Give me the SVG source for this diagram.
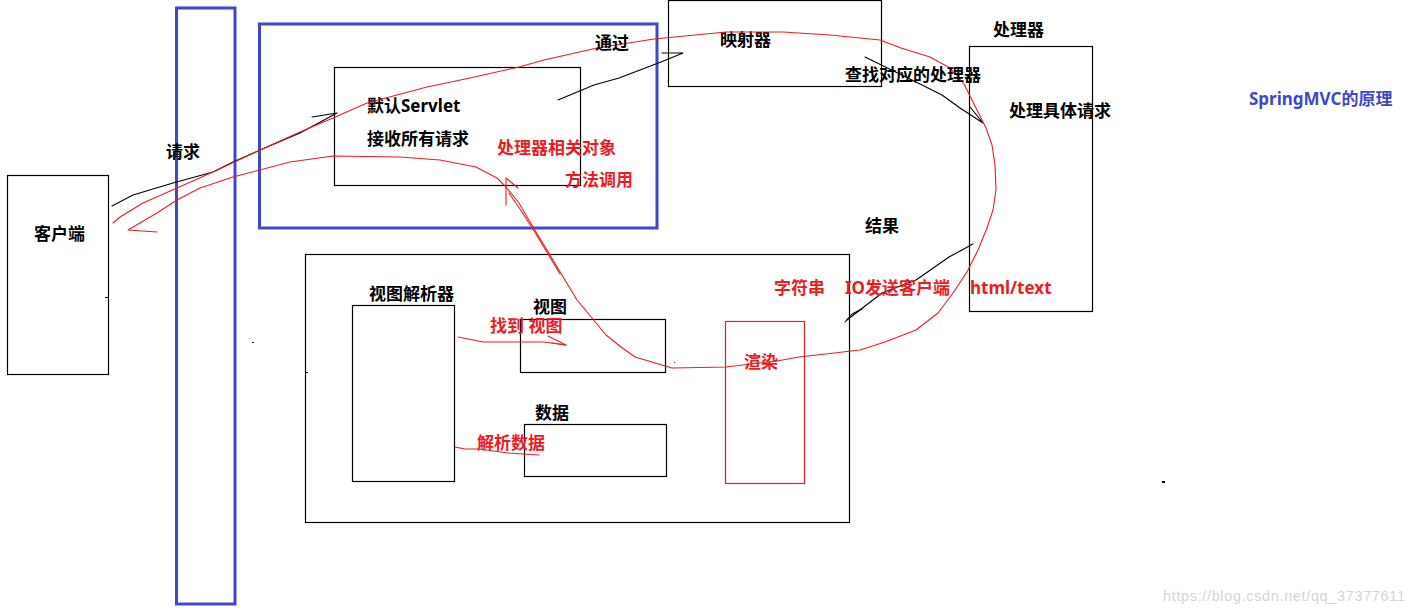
<svg xmlns="http://www.w3.org/2000/svg" width="1414" height="614" viewBox="0 0 1414 614">
<style>
.box{fill:none;stroke:#000;stroke-width:1.2}
.blue{fill:none;stroke:#3f48cc;stroke-width:3}
.rbox{fill:none;stroke:#ed1c24;stroke-width:1.2}
.t{font-family:"Noto Sans","Noto Sans CJK SC",sans-serif;font-size:17px;font-weight:bold;fill:#000}
.r{fill:#ed1c24}
.b{fill:#3f48cc}
.rl{fill:none;stroke:#ed1c24;stroke-width:1.1;stroke-linejoin:round;stroke-linecap:round}
.kl{fill:none;stroke:#000;stroke-width:1.1;stroke-linejoin:round;stroke-linecap:round}
.wm{font-family:"Liberation Sans",Arial,sans-serif;font-size:14.5px;fill:#d4d4d4}
</style>
<rect width="1414" height="614" fill="#fff"/>
<g id="request-bar"><rect class="blue" x="176.5" y="8" width="58.5" height="596"/><text class="t" x="166" y="158">请求</text></g>
<g id="dispatcher-frame"><rect class="blue" x="259.5" y="24" width="397.5" height="204"/></g>
<g id="client"><rect class="box" x="7.5" y="175.5" width="101" height="199"/><text class="t" x="34" y="240">客户端</text></g>
<g id="servlet"><rect class="box" x="334.5" y="67.5" width="246" height="118"/><text class="t" x="367" y="112">默认Servlet</text><text class="t" x="367" y="145">接收所有请求</text></g>
<g id="mapper"><rect class="box" x="668.5" y="0.5" width="213" height="86"/><text class="t" x="720" y="46">映射器</text></g>
<g id="handler"><rect class="box" x="969.5" y="46.5" width="123" height="265"/><text class="t" x="993" y="36">处理器</text><text class="t" x="1009" y="117">处理具体请求</text></g>
<g id="view-area"><rect class="box" x="305.5" y="254.5" width="544" height="268"/></g>
<g id="view-resolver"><rect class="box" x="352.5" y="305.5" width="102" height="176"/><text class="t" x="369" y="300">视图解析器</text></g>
<g id="view"><rect class="box" x="520.5" y="319.5" width="145" height="53"/><text class="t" x="533" y="313">视图</text></g>
<g id="data"><rect class="box" x="524.5" y="424.5" width="142" height="52"/><text class="t" x="535" y="419">数据</text></g>
<g id="render"><rect class="rbox" x="725.5" y="321.5" width="79" height="162"/><text class="t r" x="744" y="368">渲染</text></g>
<g id="title"><text class="t b" x="1249" y="105">SpringMVC的原理</text></g>
<g id="connectors">
<polyline class="kl" points="112,206 133,195 173,183 213,172 233,162 267,147 300,133 337,113 312,117"/>
<polyline class="kl" points="558,100 594,85 619,78 640,70 661,62 683,53 662,53"/>
<polyline class="kl" points="865,57 912,80 942,95 960,108 983,123 970,107"/>
<polyline class="kl" points="973,244 949,257 916,280 882,293 869,303 847,320"/>
<polyline class="kl" points="845,322 852,314 862,309"/>
<polyline class="rl" points="113,223 120,217 143,203 177,188 213,172 260,150 300,132 333,118 367,103 427,87 470,78 519,67 544,60 597,48 654,39 726,32 783,32 830,35 880,40 901,48 930,57 950,68 964,84 974,104 986,128 992,145 995,165 996,190 993,210 987,228 978,250 967,272 953,293 938,313 916,330 885,342 860,350 817,355 799,357 777,361 726,367 672,368 635,357 621,347 606,335 592,318 577,300 559,270 547,250 533,227 519,203 506,187 497,178 476,167 440,160 400,157 333,156 290,162 233,177 200,188 177,200 157,213 128,230 157,232"/>
<polyline class="rl" points="509,193 522,212 536,234 548,254 560,274"/>
<polyline class="rl" points="506,205 506,178 518,188"/>
<polyline class="rl" points="458,337 483,342 544,342 566,345"/>
<polyline class="rl" points="548,336 566,345 552,343"/>
<polyline class="rl" points="455,447 465,449 479,449 508,453 539,455"/>
</g>
<g id="labels">
<text class="t" x="595" y="49">通过</text>
<text class="t" x="845" y="81">查找对应的处理器</text>
<text class="t r" x="497" y="154">处理器相关对象</text>
<text class="t r" x="565" y="186">方法调用</text>
<text class="t" x="865" y="232">结果</text>
<text class="t r" x="774" y="294">字符串</text>
<text class="t r" x="845" y="294">IO发送客户端</text>
<text class="t r" x="970" y="294">html/text</text>
<text class="t r" x="490" y="332">找到 视图</text>
<text class="t r" x="477" y="449">解析数据</text>
</g>
<g id="marks">
<rect x="105" y="297" width="3" height="1" fill="#000"/>
<rect x="305" y="372" width="3" height="1" fill="#000"/>
<rect x="252" y="342" width="2" height="1" fill="#000"/>
<rect x="1162" y="481" width="3" height="2" fill="#000"/>
<rect x="674" y="362" width="1" height="1" fill="#ed1c24"/>
</g>
<text class="wm" x="1163" y="601" textLength="242">https://blog.csdn.net/qq_37377611</text>
</svg>
